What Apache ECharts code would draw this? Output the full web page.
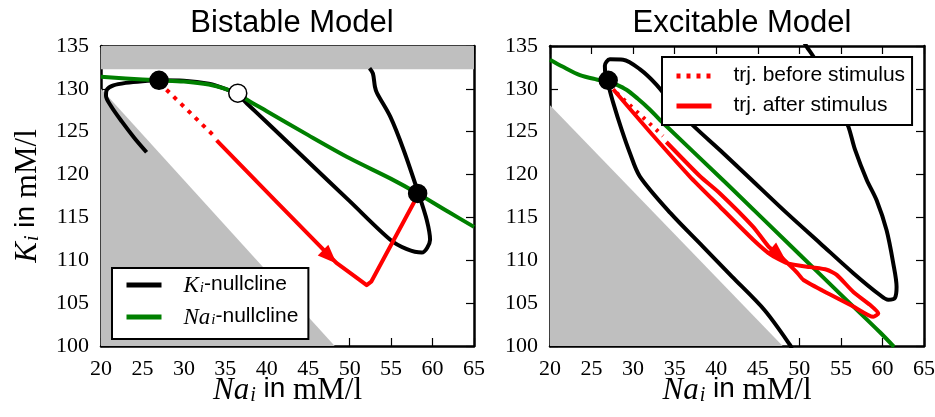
<!DOCTYPE html>
<html>
<head>
<meta charset="utf-8">
<script src="https://cdn.jsdelivr.net/npm/echarts@6/dist/echarts.min.js"></script>
<style>html,body{margin:0;padding:0;background:#fff}#main{width:935px;height:417px}</style>
</head>
<body>
<div id="main"></div>
<script>
// axis ranges
var naRange = [20, 65];
var kRange = [100, 135];

// --- Bistable model (left) ---
var bandLeft = [[20, 132.3], [65, 132.3]];
var triLeft = [[20, 130.0], [48.2, 100]];
var nullNaLeft = [[20,131.4],[23,131.2],[27,131.0],[30,130.85],[33,130.5],[35,130.0],[36.5,129.4],[38,128.5],[40,127.4],[45,124.6],[50,121.9],[55,119.5],[58.2,117.8],[62,115.6],[65,113.9]];
var nullKLeft = [[25.5,122.6],[24,124.3],[22.5,126.2],[21.2,128.0],[20.6,129.2],[20.7,129.9],[21.5,130.4],[23,130.7],[25,130.9],[27,131.0],[30,130.95],[33,130.6],[35,130.0],[36.5,129.3],[37.6,128.3],[40,126.1],[45,121.5],[50,116.9],[54.9,112.4],[56.9,111.3],[58.7,110.9],[59.7,112.4],[59.3,114.7],[58.3,117.8],[56.5,122.9],[54.9,126.75],[53.3,129.5],[53.05,130.25],[52.8,131.8],[52.4,132.4]];
var trjBeforeLeft = [[27.9,129.9],[33.75,124.4]];
var trjAfterLeft = [[33.95,124.0],[41,117.0],[48.4,109.7],[50.5,108.2],[52.05,107.1],[52.6,107.5],[57.9,117.0]];
var stableLeft = [[27.0,131.0],[58.2,117.8]];
var unstableLeft = [[36.5,129.5]];
var arrowLeft = [[47.6,110.4]];

// --- Excitable model (right) ---
var triRight = [[20, 128.1], [48, 100]];
var nullNaRight = [[20,133.4],[21.5,132.6],[23.6,131.6],[25.6,131.1],[27,130.85],[28,130.5],[29.2,129.9],[30.5,128.9],[32,127.6],[33.2,126.4],[41.3,118.9],[50,110.7],[55,106.0],[59.7,101.6],[61.4,99.9]];
var nullKRight = [[50.5,135.6],[50.9,134.9],[51.7,133.75],[53.5,130.2],[55.3,126.6],[55.9,125.6],[56.7,122.9],[58.1,119.4],[59.3,117.0],[60.5,113.5],[61.3,109.65],[61.7,106.9],[61.5,105.6],[60.7,105.4],[59.7,105.95],[56.5,108.5],[52.5,112.0],[48.5,115.5],[43.7,119.9],[40.5,122.8],[37.45,125.5],[35,127.9],[32.8,130.5],[30.8,132.3],[28.8,133.4],[27.2,133.45],[26.6,132.7],[26.7,131.5],[27.0,130.5],[27.6,128.4],[28.6,125.3],[29.6,122.55],[30.8,119.8],[34.5,115.5],[38.4,111.6],[41.9,108.1],[45.8,104.2],[48.9,100.1],[49.1,99.6]];
var trjBeforeRight = [[28.0,129.55],[33.6,124.5]];
var trjAfterRight = [[34.0,123.8],[38.05,119.8],[40.45,117.8],[44.45,113.9],[46.3,111.6],[47.7,110.5],[48.6,109.65],[49.7,108.6],[50.5,107.7],[53.7,106.0],[56.5,104.6],[58.9,103.4],[59.5,103.8],[58.5,104.8],[56.5,106.3],[54.5,108.3],[53.3,108.9],[51.3,109.2],[48.6,109.65],[46.5,110.7],[44.45,112.4],[40.45,116.25],[36.8,119.8],[32,125.0],[27.6,129.95]];
var stableRight = [[27.0,131.0]];
var arrowRight = [[47.5,110.7]];

var legendText = {
  Ki: '{s|}{m|K}{sub|i}{t|-nullcline}',
  Nai: '{s|}{m|Na}{sub|i}{t|-nullcline}',
  before: '{s|}{t|trj. before stimulus}',
  after: '{s|}{t|trj. after stimulus}'
};

var serif = 'Liberation Serif';
var sans = 'Liberation Sans';
var richMath = {
  m: {fontFamily: serif, fontStyle: 'italic', fontSize: 31, lineHeight: 31, verticalAlign: 'top', color: '#000'},
  sub: {fontFamily: serif, fontStyle: 'italic', fontSize: 20, lineHeight: 20, padding: [16, 0, 0, 1], verticalAlign: 'bottom', color: '#000'},
  t: {fontFamily: sans, fontSize: 28, lineHeight: 31, verticalAlign: 'top', color: '#000'},
  r: {fontFamily: serif, fontSize: 31, lineHeight: 31, verticalAlign: 'top', color: '#000'}
};
var richLegend = {
  s: {width: 17},
  m: {fontFamily: serif, fontStyle: 'italic', fontSize: 23, lineHeight: 18, verticalAlign: 'top', color: '#000'},
  sub: {fontFamily: serif, fontStyle: 'italic', fontSize: 15, lineHeight: 15, padding: [7, 0, 0, 1], verticalAlign: 'bottom', color: '#000'},
  t: {fontFamily: sans, fontSize: 21, lineHeight: 22, verticalAlign: 'top', color: '#000'}
};

function xAxis(gi, pos, labels, name) {
  return {
    type: 'value', gridIndex: gi, position: pos, min: naRange[0], max: naRange[1], interval: 5,
    axisLine: {show: true, onZero: false, lineStyle: {color: '#000', width: 2.5}},
    axisTick: {show: true, inside: true, length: 8, lineStyle: {color: '#000', width: 1.2}},
    axisLabel: {show: labels, margin: 12, fontFamily: serif, fontSize: 22, color: '#000'},
    splitLine: {show: false},
    name: name, nameLocation: 'middle', nameGap: 29, nameMoveOverlap: false,
    nameTextStyle: {rich: richMath}
  };
}
function yAxis(gi, pos, labels, name) {
  return {
    type: 'value', gridIndex: gi, position: pos, min: kRange[0], max: kRange[1], interval: 5,
    axisLine: {show: true, onZero: false, lineStyle: {color: '#000', width: 2.5}},
    axisTick: {show: true, inside: true, length: 8, lineStyle: {color: '#000', width: 1.2}},
    axisLabel: {show: labels, margin: 12, fontFamily: serif, fontSize: 22, color: '#000'},
    splitLine: {show: false},
    name: name, nameLocation: 'middle', nameGap: 58, nameRotate: 90, nameMoveOverlap: false,
    nameTextStyle: {rich: richMath}
  };
}

function curve(name, data, color, width, xi, dash, z, smooth) {
  return {
    name: name, type: 'line', data: data, xAxisIndex: xi, yAxisIndex: xi,
    symbol: 'none', smooth: smooth || false, z: z,
    lineStyle: {color: color, width: width, type: dash || 'solid', cap: 'butt', join: 'round'},
    itemStyle: {color: color}
  };
}
function area(data, xi, origin) {
  return {
    type: 'line', data: data, xAxisIndex: xi, yAxisIndex: xi, symbol: 'none', silent: true, z: 1,
    lineStyle: {width: 0}, areaStyle: {color: '#bfbfbf', opacity: 1, origin: origin}
  };
}
function dots(data, xi, fill) {
  return {
    type: 'scatter', data: data, xAxisIndex: xi, yAxisIndex: xi, symbolSize: 18, z: 5, silent: true,
    itemStyle: {color: fill, borderColor: '#000', borderWidth: 1.5, opacity: 1}
  };
}
function arrow(data, xi, rot) {
  return {
    type: 'scatter', data: data, xAxisIndex: xi, yAxisIndex: xi, symbol: 'triangle',
    symbolSize: [15, 19], symbolRotate: rot, z: 4, silent: true,
    itemStyle: {color: '#ff0000', opacity: 1}
  };
}
function legendBox(names, left, top, padding) {
  return {
    data: names, orient: 'vertical', left: left, top: top, itemWidth: 35, itemHeight: 12, itemGap: 9,
    padding: padding, backgroundColor: '#fff', borderColor: '#000', borderWidth: 2, borderRadius: 0, z: 10,
    selectedMode: false,
    itemStyle: {color: 'rgba(0,0,0,0)', borderWidth: 0},
    lineStyle: {width: 5},
    formatter: function (n) { return legendText[n]; },
    textStyle: {rich: richLegend}
  };
}

var chart = echarts.init(document.getElementById('main'));
chart.setOption({
  animation: false,
  backgroundColor: '#fff',
  title: [
    {text: 'Bistable Model', left: 287, top: 3, textAlign: 'center',
     textStyle: {fontFamily: sans, fontSize: 31, fontWeight: 'normal', color: '#000'}},
    {text: 'Excitable Model', left: 737, top: 3, textAlign: 'center',
     textStyle: {fontFamily: sans, fontSize: 31, fontWeight: 'normal', color: '#000'}}
  ],
  grid: [
    {left: 101, top: 46, width: 373, height: 300, outerBoundsMode: 'none'},
    {left: 550, top: 46, width: 374, height: 300, outerBoundsMode: 'none'}
  ],
  xAxis: [
    xAxis(0, 'bottom', true, '{m|Na}{sub|i}{t| in }{r|mM/l}'),
    xAxis(1, 'bottom', true, '{m|Na}{sub|i}{t| in }{r|mM/l}'),
    xAxis(0, 'top', false, ''),
    xAxis(1, 'top', false, '')
  ],
  yAxis: [
    yAxis(0, 'left', true, '{m|K}{sub|i}{t| in }{r|mM/l}'),
    yAxis(1, 'left', true, ''),
    yAxis(0, 'right', false, ''),
    yAxis(1, 'right', false, '')
  ],
  legend: [
    legendBox(['Ki', 'Nai'], 112, 268, [6, 10, 10, 12]),
    legendBox(['before', 'after'], 662, 57, [8, 7, 9, 12])
  ],
  series: [
    area(bandLeft, 0, 'end'),
    area(triLeft, 0, 'start'),
    curve('Ki', nullKLeft, '#000', 4, 0, 'solid', 2, 0.3),
    curve('Nai', nullNaLeft, '#008000', 4, 0, 'solid', 2, 0.3),
    curve('before', trjBeforeLeft, '#ff0000', 4, 0, [4, 6], 3),
    curve('after', trjAfterLeft, '#ff0000', 4, 0, 'solid', 3),
    arrow(arrowLeft, 0, -135),
    dots(stableLeft, 0, '#000'),
    dots(unstableLeft, 0, '#fff'),

    area(triRight, 1, 'start'),
    curve('Ki', nullKRight, '#000', 4, 1, 'solid', 2, 0.3),
    curve('Nai', nullNaRight, '#008000', 4, 1, 'solid', 2, 0.3),
    curve('before', trjBeforeRight, '#ff0000', 4, 1, [3, 6], 3),
    curve('after', trjAfterRight, '#ff0000', 4, 1, 'solid', 3, 0.2),
    arrow(arrowRight, 1, -130),
    dots(stableRight, 1, '#000')
  ]
});
</script>
</body>
</html>
